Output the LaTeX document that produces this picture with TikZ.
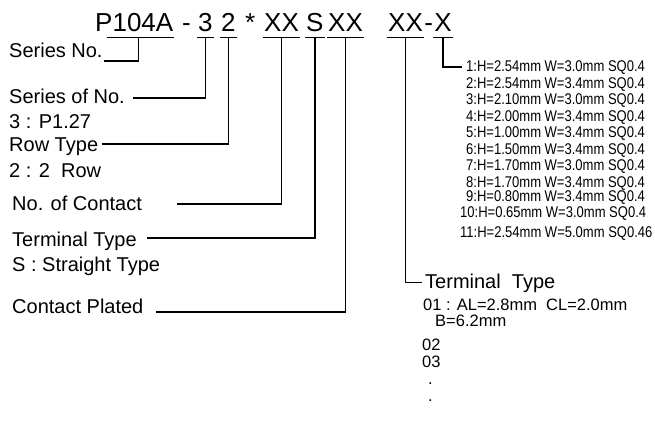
\documentclass[tikz,border=0pt]{standalone}
\usepackage{fontspec}
\setmainfont{Liberation Sans}
\newfontfamily\condensed[FakeStretch=0.84]{Liberation Sans}
\usetikzlibrary{calc}
\usetikzlibrary{positioning}
\newcommand{\codebase}{31}
\newcommand{\optx}{466}
\newcommand{\optxx}{460}
\tikzstyle{code}=[
  anchor=base west,
  inner xsep=1pt,
  inner ysep=6pt,
  font=\fontsize{26}{30}\selectfont
]
\tikzstyle{field}=[
  anchor=base west,
  inner sep=0pt,
  font=\fontsize{20}{24}\selectfont
]
\tikzstyle{option}=[
  anchor=base west,
  inner sep=0pt,
  font=\condensed\fontsize{15.5}{18}\selectfont
]
\tikzstyle{note}=[
  anchor=base west,
  inner sep=0pt,
  font=\fontsize{16.5}{20}\selectfont
]
\tikzstyle{lead}=[
  line width=1.3pt
]
\begin{document}
\begin{tikzpicture}[x=1pt, y=-1pt]
  \useasboundingbox (0,0) rectangle (655,421);

  \node[code] (series) at (94,  \codebase) {P104A};
  \node[code] (dash)   at (181, \codebase) {-};
  \node[code] (pitch)  at (197, \codebase) {3};
  \node[code] (rows)   at (220, \codebase) {2};
  \node[code] (star)   at (244, \codebase) {*};
  \node[code] (pins)   at (263, \codebase) {XX};
  \node[code] (style)  at (305, \codebase) {S};
  \node[code] (plate)  at (327, \codebase) {XX};
  \node[code] (term)   at (387, \codebase) {XX};
  \node[code, base right=-1pt of term] (hyph)   {-};
  \node[code, base right=-1pt of hyph] (height) {X};

  \node[field] (lseries) at (9,  57)  {Series No.};
  \node[field] (lpitch)  at (9,  103) {Series of No.};
  \node[field] (vpitch)  at (9,  128) {3 : P1.27};
  \node[field] (lrows)   at (9,  151) {Row Type};
  \node[field] (vrows)   at (9,  177) {2 : 2\ \ Row};
  \node[field] (lpins)   at (12, 210) {No. of Contact};
  \node[field] (lstyle)  at (12, 246) {Terminal Type};
  \node[field] (vstyle)  at (12, 271) {S : Straight Type};
  \node[field] (lplate)  at (12, 313) {Contact Plated};
  \node[field] (lterm)   at (425, 288) {Terminal\ \ Type};

  \node[option] (opt1)  at (\optx,  71)  {1:H=2.54mm W=3.0mm SQ0.4};
  \node[option] (opt2)  at (\optx,  88)  {2:H=2.54mm W=3.4mm SQ0.4};
  \node[option] (opt3)  at (\optx,  104) {3:H=2.10mm W=3.0mm SQ0.4};
  \node[option] (opt4)  at (\optx,  121) {4:H=2.00mm W=3.4mm SQ0.4};
  \node[option] (opt5)  at (\optx,  137) {5:H=1.00mm W=3.4mm SQ0.4};
  \node[option] (opt6)  at (\optx,  154) {6:H=1.50mm W=3.4mm SQ0.4};
  \node[option] (opt7)  at (\optx,  170) {7:H=1.70mm W=3.0mm SQ0.4};
  \node[option] (opt8)  at (\optx,  187) {8:H=1.70mm W=3.4mm SQ0.4};
  \node[option] (opt9)  at (\optx,  201) {9:H=0.80mm W=3.4mm SQ0.4};
  \node[option] (opt10) at (\optxx, 217) {10:H=0.65mm W=3.0mm SQ0.4};
  \node[option] (opt11) at (\optxx, 237) {11:H=2.54mm W=5.0mm SQ0.46};

  \node[note] (type01)  at (423, 310) {01 : AL=2.8mm\ \ CL=2.0mm};
  \node[note] (type01b) at (435, 326) {B=6.2mm};
  \node[note] (type02)  at (422, 350) {02};
  \node[note] (type03)  at (422, 367) {03};
  \node[note] (more1)   at (428, 384) {.};
  \node[note] (more2)   at (428, 401) {.};

  \draw[lead] ([xshift=13pt]series.south west) -- (series.south east);
  \draw[lead] (pitch.south west)  -- (pitch.south east);
  \draw[lead] (rows.south west)   -- (rows.south east);
  \draw[lead] (pins.south west)   -- (pins.south east);
  \draw[lead] (style.south west)  -- (style.south east);
  \draw[lead] (plate.south west)  -- (plate.south east);
  \draw[lead] (term.south west)   -- (term.south east);
  \draw[lead] (height.south west) -- (height.south east);

  \draw[lead] ([shift={(1,4)}]lseries.base east) -| ([xshift=4pt]series.south);
  \draw[lead] ([shift={(8,-5)}]lpitch.base east) -| (pitch.south);
  \draw[lead] ([shift={(4,-7)}]lrows.base east) -| (rows.south);
  \draw[lead] ([shift={(35,-6)}]lpins.base east) -| (pins.south);
  \draw[lead] ([shift={(10,-8)}]lstyle.base east) -| (style.south);
  \draw[lead] ([shift={(12,-1)}]lplate.base east) -| (plate.south);
  \draw[lead] (term.south) |- ([xshift=-3pt]lterm.west);
  \draw[lead] (height.south) |- ([xshift=-4pt]opt1.west);
\end{tikzpicture}
\end{document}
